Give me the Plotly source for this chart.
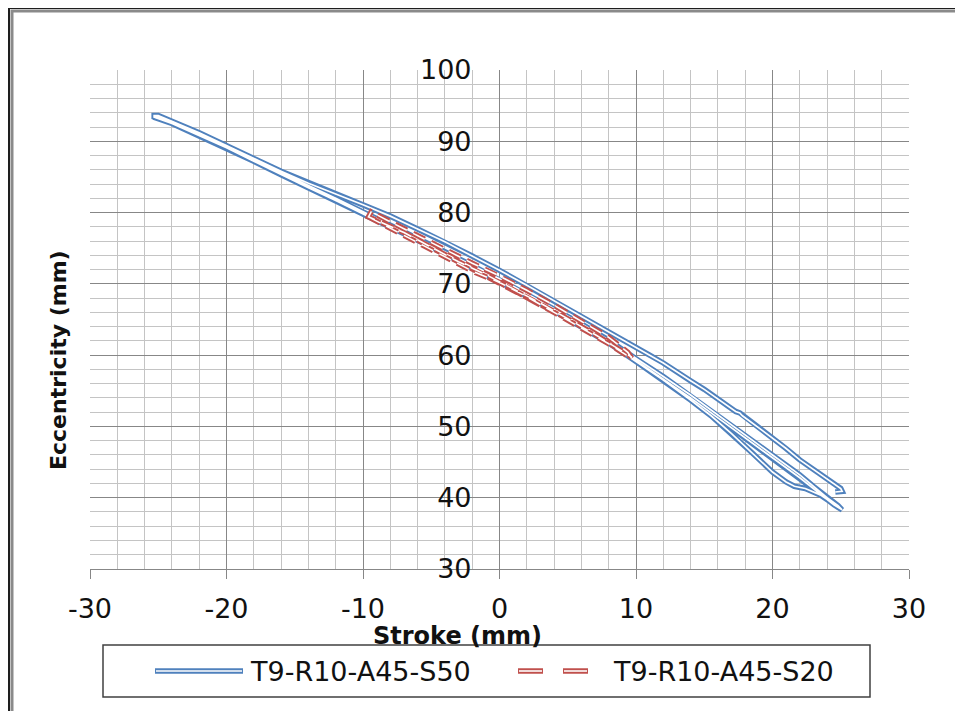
import plotly.graph_objects as go

# ---------------- data ----------------
# T9-R10-A45-S50 : four passes, concatenated in recording order
s50_upper_x = [24.6, 25.1, 25.0, 24.0, 23.0, 22.0, 21.0, 20.0, 19.0, 17.8, 17.6, 17.3, 16.0, 15.0, 14.0, 13.0, 12.0, 11.0, 10.0,
               8.0, 6.0, 4.0, 2.0, 0.0, -2.0, -4.0, -6.0, -8.0, -10.0, -12.0, -14.0, -16.0, -18.0, -20.0, -22.0, -24.0, -25.0, -25.3]
s50_upper_y = [40.8, 40.9, 41.3, 42.6, 43.9, 45.3, 46.9, 48.4, 49.8, 51.5, 51.9, 52.1, 53.9, 55.2, 56.4, 57.7, 58.9, 60.0, 61.1,
               63.3, 65.5, 67.6, 69.8, 71.9, 73.9, 75.9, 77.7, 79.5, 81.1, 82.6, 84.1, 85.8, 87.6, 89.5, 91.2, 92.8, 93.6, 93.6]

s50_mid1_x = [-25.3, -24.0, -22.0, -20.0, -18.0, -16.0, -14.0, -12.0, -10.0, -8.0, -6.0, -4.0, -2.0, 0.0, 2.0, 4.0, 6.0,
              8.0, 10.0, 12.0, 14.0, 16.0, 18.0, 20.0, 22.0, 23.5, 24.5, 25.1]
s50_mid1_y = [93.4, 92.6, 90.9, 89.2, 87.3, 85.4, 83.6, 81.8, 79.9, 78.1, 76.2, 74.3, 72.4, 70.5, 68.4, 66.3, 64.2,
              61.9, 59.3, 56.7, 54.0, 51.2, 48.4, 45.6, 42.8, 40.5, 39.0, 38.3]

s50_mid2_x = [25.1, 24.8, 24.0, 23.0, 22.0, 20.0, 18.0, 16.0, 14.0, 12.0, 10.0, 8.0, 6.0, 4.0, 2.0, 0.0, -2.0, -4.0,
              -6.0, -8.0, -10.0, -12.0, -14.0, -16.0, -18.0, -20.0, -22.0, -24.0, -25.2]
s50_mid2_y = [38.3, 38.9, 40.0, 41.6, 43.2, 46.0, 48.8, 51.6, 54.4, 57.0, 59.5, 62.1, 64.4, 66.5, 68.6, 70.7, 72.6, 74.5,
              76.4, 78.3, 80.1, 82.0, 83.8, 85.6, 87.5, 89.4, 91.1, 92.8, 93.5]

s50_steep_x = [-25.2, -24.0, -22.0, -20.0, -18.0, -16.0, -14.0, -12.0, -10.0, -8.0, -6.0, -4.0, -2.0, 0.0, 2.0, 4.0, 6.0,
               8.0, 10.0, 12.0, 14.0, 15.5, 17.0, 18.5, 20.0, 21.0, 21.6, 22.4, 23.5, 24.5, 25.1]
s50_steep_y = [93.3, 92.5, 90.8, 89.1, 87.2, 85.3, 83.5, 81.7, 79.8, 78.0, 76.1, 74.2, 72.3, 70.4, 68.3, 66.2, 64.0,
               61.7, 59.1, 56.5, 53.7, 51.5, 49.0, 46.3, 43.6, 42.2, 41.6, 41.3, 40.4, 39.1, 38.3]

# T9-R10-A45-S20 : three passes
s20_fwd1_x = [-9.6, -8.0, -6.0, -4.0, -2.0, 0.0, 2.0, 4.0, 6.0, 8.0, 9.7]
s20_fwd1_y = [79.4, 77.8, 75.8, 73.8, 71.8, 70.2, 68.2, 66.0, 63.8, 61.6, 59.5]
s20_back_x = [9.7, 9.4, 8.0, 6.0, 4.0, 2.0, 0.0, -2.0, -4.0, -6.0, -8.0, -9.4, -9.6]
s20_back_y = [59.5, 60.4, 62.5, 64.8, 67.0, 69.1, 71.1, 72.9, 74.8, 76.8, 78.7, 80.1, 79.4]
s20_fwd2_x = [-9.6, -7.0, -5.0, -3.0, -1.0, 1.0, 3.0, 5.0, 7.0, 9.7]
s20_fwd2_y = [79.4, 77.2, 75.1, 73.1, 71.3, 69.3, 67.3, 65.1, 62.9, 59.7]

series_names = ["T9-R10-A45-S50", "T9-R10-A45-S20"]
x_ticks = [-30, -20, -10, 0, 10, 20, 30]
y_ticks = [30, 40, 50, 60, 70, 80, 90, 100]

s50_x = s50_upper_x + s50_mid1_x + s50_mid2_x + s50_steep_x
s50_y = s50_upper_y + s50_mid1_y + s50_mid2_y + s50_steep_y
s20_x = s20_fwd1_x + s20_back_x + s20_fwd2_x
s20_y = s20_fwd1_y + s20_back_y + s20_fwd2_y

# ---------------- styling ----------------
BLUE = "#4F81BD"
RED = "#C0504D"
MAJOR = "#878787"
MINOR = "#c4c4c4"
FONT = "DejaVu Sans"
DASH = "13px,7px"
TXT = "#111111"

OFF = 8                      # page offset of the figure inside the window
W, H = 955, 703
L, T = 90 - OFF, 70 - OFF    # plot area: screen x 90..909, y 70..569
PW, PH = 819, 499
R = W - L - PW
B = H - T - PH


def px(xs):
    return (xs - OFF - L) / PW


def py(ys):
    return (T + PH - (ys - OFF)) / PH


fig = go.Figure()
# double ("compound") lines: thick coloured stroke, then a thin white core
fig.add_trace(go.Scatter(x=s50_x, y=s50_y, mode="lines", name=series_names[0],
                         line=dict(color=BLUE, width=5.5), showlegend=False, hoverinfo="skip"))
fig.add_trace(go.Scatter(x=s50_x, y=s50_y, mode="lines", name=series_names[0] + " core",
                         line=dict(color="white", width=1.7), showlegend=False, hoverinfo="skip"))
fig.add_trace(go.Scatter(x=s20_x, y=s20_y, mode="lines", name=series_names[1],
                         line=dict(color=RED, width=5.5, dash=DASH), showlegend=False, hoverinfo="skip"))
fig.add_trace(go.Scatter(x=s20_x, y=s20_y, mode="lines", name=series_names[1] + " core",
                         line=dict(color="white", width=1.6, dash=DASH), showlegend=False, hoverinfo="skip"))

shapes = []
# outer chart frame (dark line with grey shading)
shapes.append(dict(type="rect", xref="paper", yref="paper",
                   x0=px(9), y0=py(8), x1=px(1010), y1=py(800),
                   line=dict(color="#1e1e1e", width=2), layer="below"))
shapes.append(dict(type="rect", xref="paper", yref="paper",
                   x0=px(12), y0=py(11), x1=px(1010), y1=py(800),
                   line=dict(color="#8a8a8a", width=3), layer="below"))
# legend box
shapes.append(dict(type="rect", xref="paper", yref="paper",
                   x0=px(103), y0=py(645), x1=px(870), y1=py(697),
                   line=dict(color="#404040", width=1.5), fillcolor="white", layer="above"))
# legend samples
ly = py(671)
shapes.append(dict(type="line", xref="paper", yref="paper", x0=px(155), x1=px(243), y0=ly, y1=ly,
                   line=dict(color=BLUE, width=5.5)))
shapes.append(dict(type="line", xref="paper", yref="paper", x0=px(156), x1=px(242), y0=ly, y1=ly,
                   line=dict(color="white", width=1.7)))
for a, b in [(518, 543), (563, 588)]:
    shapes.append(dict(type="line", xref="paper", yref="paper", x0=px(a), x1=px(b), y0=ly, y1=ly,
                       line=dict(color=RED, width=5.5)))
    shapes.append(dict(type="line", xref="paper", yref="paper", x0=px(a + 1), x1=px(b - 1), y0=ly, y1=ly,
                       line=dict(color="white", width=1.6)))

annotations = [
    dict(text=series_names[0], xref="paper", yref="paper", x=px(248), y=ly, xanchor="left", yanchor="middle",
         showarrow=False, font=dict(family=FONT, size=27, color=TXT)),
    dict(text=series_names[1], xref="paper", yref="paper", x=px(611), y=ly, xanchor="left", yanchor="middle",
         showarrow=False, font=dict(family=FONT, size=27, color=TXT)),
    dict(text="<b>Stroke (mm)</b>", xref="paper", yref="paper", x=px(457), y=py(636), xanchor="center",
         yanchor="middle", showarrow=False, font=dict(family=FONT, size=24, color=TXT)),
    dict(text="<b>Eccentricity (mm)</b>", xref="paper", yref="paper", x=px(58), y=py(360), xanchor="center",
         yanchor="middle", textangle=-90, showarrow=False, font=dict(family=FONT, size=22, color=TXT)),
]

fig.update_layout(
    width=W, height=H,
    margin=dict(l=L, r=R, t=T, b=B),
    paper_bgcolor="white", plot_bgcolor="white",
    showlegend=False,
    shapes=shapes, annotations=annotations,
    xaxis=dict(range=[-30, 30], tickvals=x_ticks, ticktext=[str(v) for v in x_ticks],
               showgrid=True, gridcolor=MAJOR, gridwidth=1.3,
               minor=dict(dtick=2, showgrid=True, gridcolor=MINOR, gridwidth=1.3),
               zeroline=True, zerolinecolor=MAJOR, zerolinewidth=1.3,
               showline=True, linecolor=MAJOR, linewidth=1.3,
               ticks="outside", ticklen=9, tickcolor=MAJOR, tickwidth=1.3,
               ticklabelstandoff=6,
               tickfont=dict(family=FONT, size=27, color=TXT), fixedrange=True),
    yaxis=dict(range=[30, 100], tickvals=y_ticks, ticktext=[str(v) for v in y_ticks],
               anchor="free", position=0.5,
               showgrid=True, gridcolor=MAJOR, gridwidth=1.3,
               minor=dict(dtick=2, showgrid=True, gridcolor=MINOR, gridwidth=1.3),
               zeroline=False, showline=False, ticks="",
               ticklabelstandoff=28,
               tickfont=dict(family=FONT, size=27, color=TXT), fixedrange=True),
)

fig.write_html("out.html")
